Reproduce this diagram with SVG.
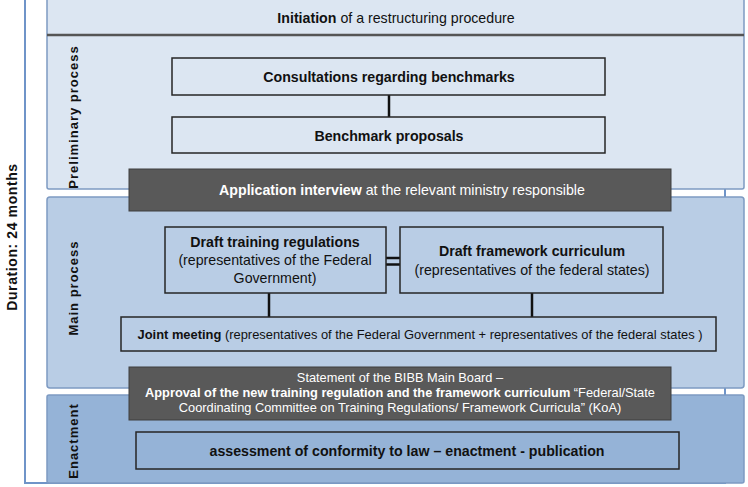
<svg xmlns="http://www.w3.org/2000/svg" width="748" height="487" viewBox="0 0 748 487">
<style>
text{font-family:"Liberation Sans",Arial,sans-serif;fill:#111;}
.band{stroke:#7d9ac2;stroke-width:1.5;}
.box{stroke:#262626;stroke-width:1.5;}
.dark{fill:#595959;stroke:#3f3f3f;stroke-width:1;}
.t{font-size:14.2px;text-anchor:middle;}
.b{font-weight:bold;}
.w{fill:#ffffff;}
.lbl{font-size:13px;font-weight:bold;text-anchor:middle;letter-spacing:1px;}
.con{stroke:#111;stroke-width:2.5;fill:none;}
</style>
<rect width="748" height="487" fill="#ffffff"/>
<g id="frame">
<rect x="25" y="-5" width="700" height="488" fill="#ffffff" stroke="#6f94c8" stroke-width="2"/>
<text transform="translate(17,237) rotate(-90)" class="lbl" style="font-size:14px;letter-spacing:0.6px">Duration: 24 months</text>
</g>
<g id="preliminary">
<rect class="band" x="47" y="-3" width="697" height="192" fill="#dce6f2" rx="2"/>
<line x1="47" y1="35" x2="744" y2="35" stroke="#555" stroke-width="2.5"/>
<text transform="translate(78,117) rotate(-90)" class="lbl">Preliminary process</text>
</g>
<g id="initiation">
<text class="t" x="396" y="23"><tspan class="b">Initiation</tspan> of a restructuring procedure</text>
</g>
<g id="main">
<rect class="band" x="47" y="197" width="697" height="191" fill="#b9cde5" rx="3"/>
<text transform="translate(78,288) rotate(-90)" class="lbl">Main process</text>
</g>
<g id="enactment">
<rect class="band" x="47" y="395" width="697" height="88" fill="#95b3d7" rx="2"/>
<text transform="translate(78,441) rotate(-90)" class="lbl">Enactment</text>
</g>
<g id="connectors">
<line class="con" x1="389" y1="95" x2="389" y2="117"/>
<line class="con" x1="386" y1="258" x2="400" y2="258"/>
<line class="con" x1="386" y1="264.5" x2="400" y2="264.5"/>
<line class="con" x1="269" y1="293" x2="269" y2="317"/>
<line class="con" x1="532" y1="293" x2="532" y2="317"/>
</g>
<g id="consultations">
<rect class="box" x="172" y="58" width="433" height="37" fill="#dce6f2"/>
<text class="t b" x="389" y="81.5">Consultations regarding benchmarks</text>
</g>
<g id="benchmark">
<rect class="box" x="172" y="117" width="433" height="36" fill="#dce6f2"/>
<text class="t b" x="389" y="140.5">Benchmark proposals</text>
</g>
<g id="application">
<rect class="dark" x="129" y="169" width="542" height="42"/>
<text class="t w" x="402" y="195"><tspan class="b w">Application interview</tspan> at the relevant ministry  responsible</text>
</g>
<g id="draft-regulations">
<rect class="box" x="165" y="227" width="221" height="66" fill="#b9cde5"/>
<text class="t b" x="275" y="247">Draft training regulations</text>
<text class="t" x="275" y="265">(representatives of the Federal</text>
<text class="t" x="275" y="283">Government)</text>
</g>
<g id="draft-curriculum">
<rect class="box" x="400" y="227" width="263" height="66" fill="#b9cde5"/>
<text class="t b" x="532" y="256">Draft framework curriculum</text>
<text class="t" x="532" y="275">(representatives of the federal states)</text>
</g>
<g id="joint-meeting">
<rect class="box" x="121" y="317" width="595" height="34" fill="#b9cde5"/>
<text class="t" x="420" y="339" style="font-size:12.9px"><tspan class="b">Joint meeting</tspan> (representatives of the Federal Government + representatives of the federal states )</text>
</g>
<g id="statement">
<rect class="dark" x="129" y="367" width="542" height="53"/>
<text class="t w" x="400" y="382" style="font-size:12.8px">Statement of the BIBB Main Board  –</text>
<text class="t w" x="400" y="397" style="font-size:12.8px"><tspan class="b w">Approval of the new training regulation and the framework curriculum</tspan> “Federal/State</text>
<text class="t w" x="400" y="412" style="font-size:12.8px">Coordinating Committee on Training Regulations/ Framework Curricula” (KoA)</text>
</g>
<g id="assessment">
<rect class="box" x="136" y="432" width="543" height="37" fill="#95b3d7"/>
<text class="t b" x="407" y="456">assessment of conformity to law – enactment - publication</text>
</g>
</svg>
